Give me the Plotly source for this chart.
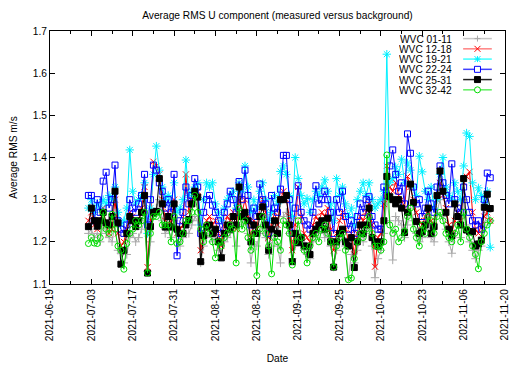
import pandas as pd
import plotly.graph_objects as go

start_date = "2021-07-02"
n_days = 137
dates = pd.date_range(start_date, periods=n_days, freq="D")

wvc_01_11 = [
    1.22, 1.23, 1.21, 1.22, 1.20, 1.24, 1.22, 1.21, 1.20, 1.24,
    1.18, 1.173, 1.15, 1.17, 1.21, 1.22, 1.20, 1.21, 1.23, 1.25,
    1.13, 1.20, 1.26, 1.28, 1.30, 1.25, 1.22, 1.23, 1.21, 1.25,
    1.20, 1.19, 1.21, 1.22, 1.22, 1.24, 1.26, 1.25, 1.15, 1.19,
    1.21, 1.22, 1.20, 1.21, 1.18, 1.17, 1.20, 1.21, 1.22, 1.23,
    1.19, 1.28, 1.24, 1.26, 1.22, 1.15, 1.20, 1.19, 1.22, 1.24,
    1.21, 1.17, 1.19, 1.22, 1.19, 1.15, 1.26, 1.27, 1.22, 1.16,
    1.19, 1.22, 1.20, 1.18, 1.17, 1.16, 1.20, 1.21, 1.22, 1.23,
    1.21, 1.22, 1.19, 1.14, 1.18, 1.20, 1.21, 1.19, 1.115, 1.17,
    1.15, 1.18, 1.21, 1.20, 1.22, 1.24, 1.19, 1.115, 1.16, 1.18,
    1.22, 1.30, 1.25, 1.157, 1.26, 1.25, 1.24, 1.21, 1.24, 1.28,
    1.25, 1.22, 1.20, 1.21, 1.23, 1.25, 1.21, 1.20, 1.27, 1.30,
    1.26, 1.23, 1.20, 1.173, 1.22, 1.24, 1.21, 1.30, 1.24, 1.20,
    1.18, 1.16, 1.18, 1.19, 1.24, 1.27, 1.25,
]

wvc_12_18 = [
    1.25, 1.27, 1.24, 1.23, 1.25, 1.28, 1.24, 1.22, 1.23, 1.30,
    1.22, 1.19, 1.20, 1.23, 1.27, 1.26, 1.24, 1.25, 1.28, 1.33,
    1.14, 1.25, 1.39, 1.38, 1.36, 1.30, 1.25, 1.27, 1.24, 1.30,
    1.22, 1.23, 1.24, 1.36, 1.27, 1.30, 1.31, 1.32, 1.18, 1.22,
    1.25, 1.26, 1.24, 1.25, 1.22, 1.19, 1.24, 1.26, 1.25, 1.27,
    1.23, 1.30, 1.27, 1.30, 1.26, 1.21, 1.25, 1.23, 1.28, 1.30,
    1.27, 1.21, 1.24, 1.27, 1.24, 1.30, 1.32, 1.30, 1.26, 1.18,
    1.24, 1.33, 1.26, 1.22, 1.21, 1.20, 1.24, 1.26, 1.25, 1.27,
    1.26, 1.28, 1.23, 1.18, 1.22, 1.25, 1.27, 1.23, 1.20, 1.22,
    1.17, 1.22, 1.26, 1.25, 1.27, 1.29, 1.24, 1.141, 1.21, 1.22,
    1.29, 1.38, 1.33, 1.32, 1.34, 1.31, 1.30, 1.28, 1.355, 1.33,
    1.30, 1.27, 1.25, 1.24, 1.26, 1.28, 1.25, 1.24, 1.30, 1.34,
    1.31, 1.28, 1.24, 1.22, 1.25, 1.27, 1.25, 1.34, 1.355, 1.366,
    1.27, 1.23, 1.22, 1.24, 1.26, 1.27, 1.25,
]

wvc_19_21 = [
    1.28, 1.30, 1.27, 1.29, 1.28, 1.30, 1.29, 1.31, 1.30, 1.33,
    1.27, 1.24, 1.25, 1.28, 1.418, 1.32, 1.29, 1.30, 1.31, 1.34,
    1.22, 1.28, 1.36, 1.427, 1.37, 1.33, 1.30, 1.31, 1.29, 1.34,
    1.27, 1.28, 1.30, 1.394, 1.31, 1.32, 1.33, 1.34, 1.24, 1.30,
    1.34, 1.33, 1.34, 1.29, 1.27, 1.25, 1.28, 1.30, 1.31, 1.32,
    1.28, 1.34, 1.32, 1.38, 1.33, 1.27, 1.30, 1.28, 1.32, 1.34,
    1.30, 1.25, 1.27, 1.31, 1.29, 1.367, 1.38, 1.36, 1.31, 1.26,
    1.40, 1.35, 1.31, 1.29, 1.303, 1.27, 1.30, 1.32, 1.31, 1.33,
    1.347, 1.32, 1.29, 1.25, 1.35, 1.31, 1.33, 1.29, 1.26, 1.28,
    1.24, 1.30, 1.32, 1.34, 1.31, 1.34, 1.30, 1.28, 1.29, 1.30,
    1.32, 1.645, 1.34, 1.35, 1.378, 1.36, 1.396, 1.34, 1.387, 1.37,
    1.33, 1.31, 1.403, 1.366, 1.32, 1.30, 1.33, 1.28, 1.30, 1.36,
    1.40, 1.33, 1.31, 1.30, 1.34, 1.32, 1.30, 1.38, 1.458, 1.45,
    1.34, 1.30, 1.328, 1.31, 1.295, 1.32, 1.187,
]

wvc_22_24 = [
    1.31, 1.31, 1.25, 1.30, 1.27, 1.344, 1.365, 1.28, 1.30, 1.382,
    1.25, 1.23, 1.22, 1.24, 1.30, 1.28, 1.27, 1.29, 1.31, 1.36,
    1.24, 1.30, 1.382, 1.37, 1.34, 1.32, 1.28, 1.30, 1.27, 1.36,
    1.167, 1.25, 1.27, 1.33, 1.29, 1.31, 1.35, 1.33, 1.22, 1.27,
    1.30, 1.31, 1.287, 1.27, 1.25, 1.22, 1.27, 1.29, 1.32, 1.30,
    1.27, 1.343, 1.30, 1.37, 1.31, 1.24, 1.28, 1.26, 1.337, 1.30,
    1.29, 1.22, 1.31, 1.28, 1.27, 1.325, 1.405, 1.405, 1.30, 1.22,
    1.28, 1.333, 1.27, 1.25, 1.24, 1.23, 1.27, 1.333, 1.29, 1.30,
    1.32, 1.30, 1.27, 1.22, 1.30, 1.27, 1.32, 1.26, 1.23, 1.25,
    1.22, 1.26, 1.29, 1.27, 1.30, 1.307, 1.26, 1.24, 1.23, 1.23,
    1.33, 1.31, 1.38, 1.418, 1.36, 1.32, 1.34, 1.29, 1.456, 1.41,
    1.33, 1.29, 1.30, 1.26, 1.28, 1.32, 1.29, 1.27, 1.33, 1.38,
    1.34, 1.31, 1.29, 1.385, 1.30, 1.28, 1.27, 1.33, 1.30, 1.27,
    1.25, 1.24, 1.25, 1.23, 1.30, 1.363, 1.352,
]

wvc_25_31 = [
    1.236, 1.28, 1.25, 1.237, 1.25, 1.27, 1.245, 1.24, 1.26, 1.32,
    1.245, 1.147, 1.18, 1.22, 1.26, 1.25, 1.236, 1.25, 1.27, 1.31,
    1.126, 1.236, 1.27, 1.272, 1.35, 1.29, 1.235, 1.26, 1.235, 1.29,
    1.23, 1.22, 1.22, 1.24, 1.253, 1.29, 1.32, 1.306, 1.153, 1.215,
    1.235, 1.24, 1.22, 1.23, 1.20, 1.162, 1.22, 1.24, 1.23, 1.26,
    1.24, 1.33, 1.26, 1.27, 1.25, 1.20, 1.24, 1.22, 1.26, 1.283,
    1.24, 1.18, 1.23, 1.25, 1.22, 1.30, 1.30, 1.31, 1.24, 1.153,
    1.22, 1.198, 1.21, 1.19, 1.19, 1.17, 1.22, 1.23, 1.24, 1.25,
    1.23, 1.256, 1.20, 1.14, 1.20, 1.22, 1.23, 1.20, 1.19, 1.21,
    1.139, 1.20, 1.24, 1.22, 1.24, 1.28, 1.21, 1.20, 1.19, 1.20,
    1.25, 1.355, 1.307, 1.30, 1.29, 1.30, 1.28, 1.222, 1.27, 1.337,
    1.293, 1.248, 1.22, 1.224, 1.24, 1.28, 1.22, 1.236, 1.31, 1.368,
    1.32, 1.27, 1.23, 1.214, 1.29, 1.26, 1.24, 1.35, 1.228, 1.224,
    1.224, 1.19, 1.195, 1.204, 1.282, 1.313, 1.279,
]

wvc_32_42 = [
    1.196, 1.21, 1.197, 1.196, 1.21, 1.27, 1.23, 1.22, 1.265, 1.23,
    1.19, 1.18, 1.135, 1.196, 1.22, 1.23, 1.25, 1.24, 1.25, 1.27,
    1.126, 1.22, 1.26, 1.26, 1.27, 1.24, 1.24, 1.24, 1.20, 1.26,
    1.196, 1.20, 1.22, 1.25, 1.25, 1.27, 1.31, 1.27, 1.23, 1.20,
    1.24, 1.22, 1.20, 1.162, 1.20, 1.19, 1.21, 1.22, 1.24, 1.23,
    1.15, 1.28, 1.23, 1.25, 1.21, 1.18, 1.22, 1.12, 1.23, 1.26,
    1.22, 1.19, 1.124, 1.21, 1.20, 1.18, 1.25, 1.24, 1.22, 1.145,
    1.20, 1.25, 1.21, 1.18, 1.15, 1.19, 1.21, 1.22, 1.20, 1.23,
    1.24, 1.22, 1.20, 1.14, 1.19, 1.21, 1.22, 1.18, 1.11, 1.114,
    1.16, 1.20, 1.22, 1.21, 1.23, 1.26, 1.22, 1.19, 1.19, 1.18,
    1.20, 1.406, 1.24, 1.22, 1.23, 1.20, 1.21, 1.225, 1.26, 1.28,
    1.23, 1.21, 1.19, 1.24, 1.22, 1.26, 1.25, 1.22, 1.26, 1.27,
    1.25, 1.22, 1.21, 1.20, 1.22, 1.24, 1.20, 1.27, 1.23, 1.21,
    1.19, 1.17, 1.136, 1.20, 1.22, 1.24, 1.25,
]

series_names = ["WVC 01-11", "WVC 12-18", "WVC 19-21", "WVC 22-24", "WVC 25-31", "WVC 32-42"]
series_values = [wvc_01_11, wvc_12_18, wvc_19_21, wvc_22_24, wvc_25_31, wvc_32_42]
colors = ["#a8a8a8", "#ff0000", "#00f0ff", "#0000ff", "#000000", "#00dd00"]
legend_line_colors = ["#c8c8c8", "#ff8080", "#40ffff", "#4040ff", "#202020", "#60ee60"]
symbols = ["cross-thin-open", "x-thin-open", "asterisk-open", "square-open", "square", "circle-open"]
sizes = [6, 6, 7, 6, 6, 6]

x_tick_labels = ["2021-06-19", "2021-07-03", "2021-07-17", "2021-07-31", "2021-08-14",
                 "2021-08-28", "2021-09-11", "2021-09-25", "2021-10-09", "2021-10-23",
                 "2021-11-06", "2021-11-20"]
y_tick_labels = ["1.1", "1.2", "1.3", "1.4", "1.5", "1.6", "1.7"]

FONT = "Liberation Sans, Arial, sans-serif"
FS = 10.2

# the page body has an 8px default margin, so the figure is drawn 8px smaller
FIG_W, FIG_H = 517, 359

fig = go.Figure()
for name, vals, col, sym, sz in zip(series_names, series_values, colors, symbols, sizes):
    fig.add_trace(go.Scatter(
        x=dates, y=vals, name=name, mode="lines+markers",
        line=dict(color=col, width=1),
        marker=dict(symbol=sym, size=sz, color=col, line=dict(color=col, width=1)),
        showlegend=False,
    ))

# gnuplot-style key: text right-aligned, then a sample line with the point symbol
shapes = []
annotations = []
key_text_x = 0.886
key_line_x0, key_line_x1 = 0.908, 0.971
key_mark_x = 0.9395
key_top = 0.970
key_step = 0.0405
for k, (name, col, lcol, sym) in enumerate(zip(series_names, colors, legend_line_colors, symbols)):
    yk = key_top - k * key_step
    annotations.append(dict(text=name, x=key_text_x, y=yk, xref="paper", yref="paper",
                            xanchor="right", yanchor="middle", showarrow=False,
                            height=10, valign="middle", borderpad=0,
                            font=dict(size=FS, family=FONT, color="black")))
    shapes.append(dict(type="line", xref="paper", yref="paper", x0=key_line_x0, x1=key_line_x1,
                       y0=yk, y1=yk, line=dict(color=lcol, width=1.5)))
    common = dict(xref="paper", yref="paper", xsizemode="pixel", ysizemode="pixel",
                  xanchor=key_mark_x, yanchor=yk)
    if sym in ("cross-thin-open", "asterisk-open"):
        shapes.append(dict(type="line", x0=-3, x1=3, y0=0, y1=0, line=dict(color=col, width=1), **common))
        shapes.append(dict(type="line", x0=0, x1=0, y0=-3, y1=3, line=dict(color=col, width=1), **common))
    if sym in ("x-thin-open", "asterisk-open"):
        shapes.append(dict(type="line", x0=-3, x1=3, y0=-3, y1=3, line=dict(color=col, width=1), **common))
        shapes.append(dict(type="line", x0=-3, x1=3, y0=3, y1=-3, line=dict(color=col, width=1), **common))
    if sym == "square-open":
        shapes.append(dict(type="rect", x0=-3, x1=3, y0=-3, y1=3, fillcolor="white",
                           line=dict(color=col, width=1), **common))
    if sym == "square":
        shapes.append(dict(type="rect", x0=-3, x1=3, y0=-3, y1=3, fillcolor=col,
                           line=dict(color=col, width=1), **common))
    if sym == "circle-open":
        shapes.append(dict(type="circle", x0=-3, x1=3, y0=-3, y1=3, fillcolor="white",
                           line=dict(color=col, width=1), **common))

fig.update_layout(
    width=FIG_W, height=FIG_H,
    margin=dict(l=42, r=20, t=23, b=83),
    paper_bgcolor="white", plot_bgcolor="white",
    font=dict(family=FONT, size=FS, color="black"),
    title=dict(text="Average RMS U component (measured versus background)",
               x=0.5, xref="paper", y=1 - 7 / FIG_H, yref="container",
               xanchor="center", yanchor="middle",
               font=dict(size=FS, family=FONT)),
    showlegend=False,
    shapes=shapes,
    annotations=annotations,
)

fig.update_xaxes(
    type="date",
    range=[x_tick_labels[0], x_tick_labels[-1]],
    tickmode="array", tickvals=x_tick_labels, ticktext=x_tick_labels,
    tickangle=-90,
    ticks="inside", ticklen=5, tickcolor="black",
    minor=dict(ticks="inside", ticklen=3, dtick=7 * 86400000, tick0=x_tick_labels[0], tickcolor="black"),
    showline=True, linecolor="black", linewidth=1, mirror="allticks",
    showgrid=False, zeroline=False, automargin=False,
    title=dict(text="Date", font=dict(size=FS, family=FONT), standoff=14),
    tickfont=dict(size=FS, family=FONT),
)
fig.update_yaxes(
    range=[1.1, 1.7],
    tickmode="array", tickvals=[float(v) for v in y_tick_labels], ticktext=y_tick_labels,
    ticks="inside", ticklen=5, tickcolor="black",
    showline=True, linecolor="black", linewidth=1, mirror="allticks",
    showgrid=False, zeroline=False, automargin=False,
    title=dict(text="Average RMS m/s", font=dict(size=FS, family=FONT), standoff=22),
    tickfont=dict(size=FS, family=FONT),
)

fig.write_html("out.html")
